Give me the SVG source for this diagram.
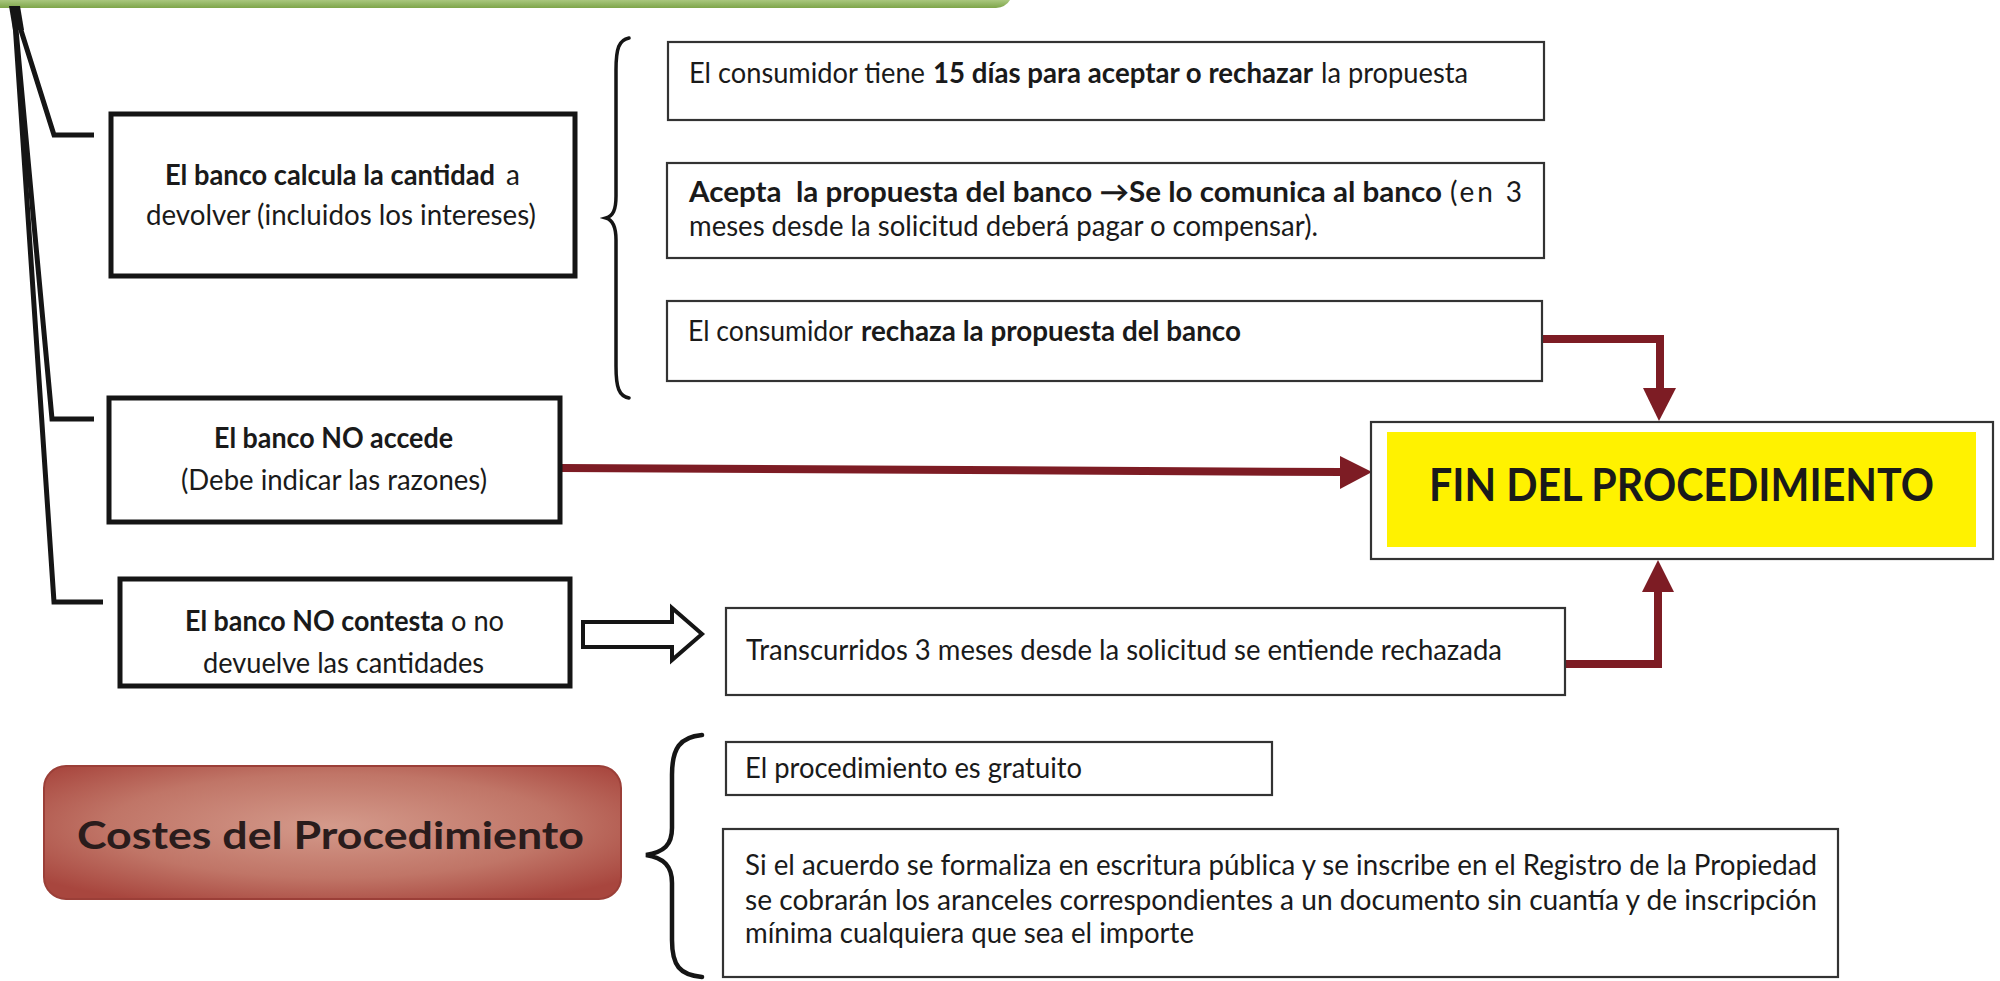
<svg xmlns="http://www.w3.org/2000/svg" width="2000" height="981" viewBox="0 0 2000 981">
<style>
.bg{fill:#ffffff}
.thick{fill:#ffffff;stroke:#151515;stroke-width:5}
.thin{fill:#ffffff;stroke:#333333;stroke-width:2.2}
.t{font-family:Lato,"Liberation Sans",sans-serif;font-size:28px;fill:#1a1a1a}
.b{font-weight:bold}
.line{fill:none;stroke:#151515;stroke-width:5;stroke-linejoin:miter}
.red{fill:none;stroke:#7d1c24;stroke-width:8}
.redhead{fill:#7d1c24}
.brace{fill:none;stroke:#151515;stroke-width:3.5;stroke-linecap:round}
</style>
<defs>
<radialGradient id="costG" cx="50%" cy="45%" r="65%">
<stop offset="0" stop-color="#d49a8b"/>
<stop offset="0.6" stop-color="#c07567"/>
<stop offset="1" stop-color="#a8463e"/>
</radialGradient>
<linearGradient id="greenG" x1="0" y1="0" x2="0" y2="1">
<stop offset="0" stop-color="#a9c77e"/>
<stop offset="1" stop-color="#7ea54a"/>
</linearGradient>
</defs>
<rect class="bg" x="0" y="0" width="2000" height="981"/>
<path d="M0,0 H1010 Q1006,7 996,8 H0 Z" fill="url(#greenG)"/>

<g id="connectors">
<polyline class="line" points="14,8 54,135 94,135"/>
<polyline class="line" points="14,8 52,419 94,419"/>
<polyline class="line" points="14,8 54,602 103,602"/>
<path d="M9,6 L20,6 L24,30 L13,30 Z" fill="#151515"/>
<path class="brace" d="M629,38 C619,40 616,48 616,70 L616,196 C616,210 613,216 606,218 C613,220 616,227 616,240 L616,366 C616,388 619,396 629,398"/>
<path class="brace" style="stroke-width:4.5" d="M702,735 C680,737 672,748 672,775 L672,828 C672,845 664,852 646,855 C664,858 672,866 672,883 L672,940 C672,966 680,975 702,977"/>
<polygon points="583,622 672,622 672,608 702,634 672,660 672,647 583,647" fill="#ffffff" stroke="#151515" stroke-width="4"/>
<polyline class="red" points="561,468 1342,472"/>
<polygon class="redhead" points="1340,456 1372,472 1340,489"/>
<polyline class="red" points="1542,339 1660,339 1660,390"/>
<polygon class="redhead" points="1643,388 1676,388 1659,421"/>
<polyline class="red" points="1565,664 1658,664 1658,590"/>
<polygon class="redhead" points="1642,592 1674,592 1658,560"/>
</g>

<g id="n-calcula">
<rect class="thick" x="111" y="114" width="464" height="162"/>
<text class="t b" x="165" y="185" textLength="330" lengthAdjust="spacingAndGlyphs">El banco calcula la cantidad</text>
<text class="t" x="506" y="185">a</text>
<text class="t" x="146" y="225" textLength="390" lengthAdjust="spacingAndGlyphs">devolver (incluidos los intereses)</text>
</g>

<g id="n-noaccede">
<rect class="thick" x="109" y="398" width="451" height="124"/>
<text class="t b" x="214" y="448" textLength="239" lengthAdjust="spacingAndGlyphs">El banco NO accede</text>
<text class="t" x="181" y="490" textLength="306" lengthAdjust="spacingAndGlyphs">(Debe indicar las razones)</text>
</g>

<g id="n-nocontesta">
<rect class="thick" x="120" y="579" width="450" height="107"/>
<text class="t b" x="185" y="631" textLength="259" lengthAdjust="spacingAndGlyphs">El banco NO contesta</text>
<text class="t" x="451" y="631" textLength="53" lengthAdjust="spacingAndGlyphs">o no</text>
<text class="t" x="203" y="673" textLength="281" lengthAdjust="spacingAndGlyphs">devuelve las cantidades</text>
</g>

<g id="n-15dias">
<rect class="thin" x="668" y="42" width="876" height="78"/>
<text class="t" x="689" y="83" textLength="236" lengthAdjust="spacingAndGlyphs">El consumidor tiene</text>
<text class="t b" x="933" y="83" textLength="380" lengthAdjust="spacingAndGlyphs">15 días para aceptar o rechazar</text>
<text class="t" x="1321" y="83" textLength="147" lengthAdjust="spacingAndGlyphs">la propuesta</text>
</g>

<g id="n-acepta">
<rect class="thin" x="667" y="163" width="877" height="95"/>
<text class="t b" x="689" y="202" textLength="753" lengthAdjust="spacingAndGlyphs" xml:space="preserve">Acepta  la propuesta del banco →Se lo comunica al banco</text>
<text class="t" x="1450" y="202" textLength="72" lengthAdjust="spacing">(en 3</text>
<text class="t" x="689" y="236" textLength="629" lengthAdjust="spacingAndGlyphs">meses desde la solicitud deberá pagar o compensar).</text>
</g>

<g id="n-rechaza">
<rect class="thin" x="667" y="301" width="875" height="80"/>
<text class="t" x="688" y="341" textLength="165" lengthAdjust="spacingAndGlyphs">El consumidor</text>
<text class="t b" x="861" y="341" textLength="380" lengthAdjust="spacingAndGlyphs">rechaza la propuesta del banco</text>
</g>

<g id="n-fin">
<rect class="thin" x="1371" y="422" width="622" height="137"/>
<rect x="1387" y="432" width="589" height="115" fill="#fff200"/>
<text class="t b" x="1429" y="501" style="font-size:46px" textLength="505" lengthAdjust="spacingAndGlyphs">FIN DEL PROCEDIMIENTO</text>
</g>

<g id="n-transcurridos">
<rect class="thin" x="726" y="608" width="839" height="87"/>
<text class="t" x="746" y="660" textLength="756" lengthAdjust="spacingAndGlyphs">Transcurridos 3 meses desde la solicitud se entiende rechazada</text>
</g>

<g id="n-costes">
<rect x="44" y="766" width="577" height="133" rx="22" ry="22" fill="url(#costG)" stroke="#9b3f38" stroke-width="2"/>
<text class="t b" x="77" y="849" style="font-size:38px;fill:#2a1c1c" textLength="507" lengthAdjust="spacingAndGlyphs">Costes del Procedimiento</text>
</g>

<g id="n-gratuito">
<rect class="thin" x="726" y="742" width="546" height="53"/>
<text class="t" x="745" y="778" textLength="337" lengthAdjust="spacingAndGlyphs">El procedimiento es gratuito</text>
</g>

<g id="n-registro">
<rect class="thin" x="723" y="829" width="1115" height="148"/>
<text class="t" x="745" y="875" textLength="1072" lengthAdjust="spacingAndGlyphs">Si el acuerdo se formaliza en escritura pública y se inscribe en el Registro de la Propiedad</text>
<text class="t" x="745" y="910" textLength="1072" lengthAdjust="spacingAndGlyphs">se cobrarán los aranceles correspondientes a un documento sin cuantía y de inscripción</text>
<text class="t" x="745" y="943" textLength="449" lengthAdjust="spacingAndGlyphs">mínima cualquiera que sea el importe</text>
</g>
</svg>
